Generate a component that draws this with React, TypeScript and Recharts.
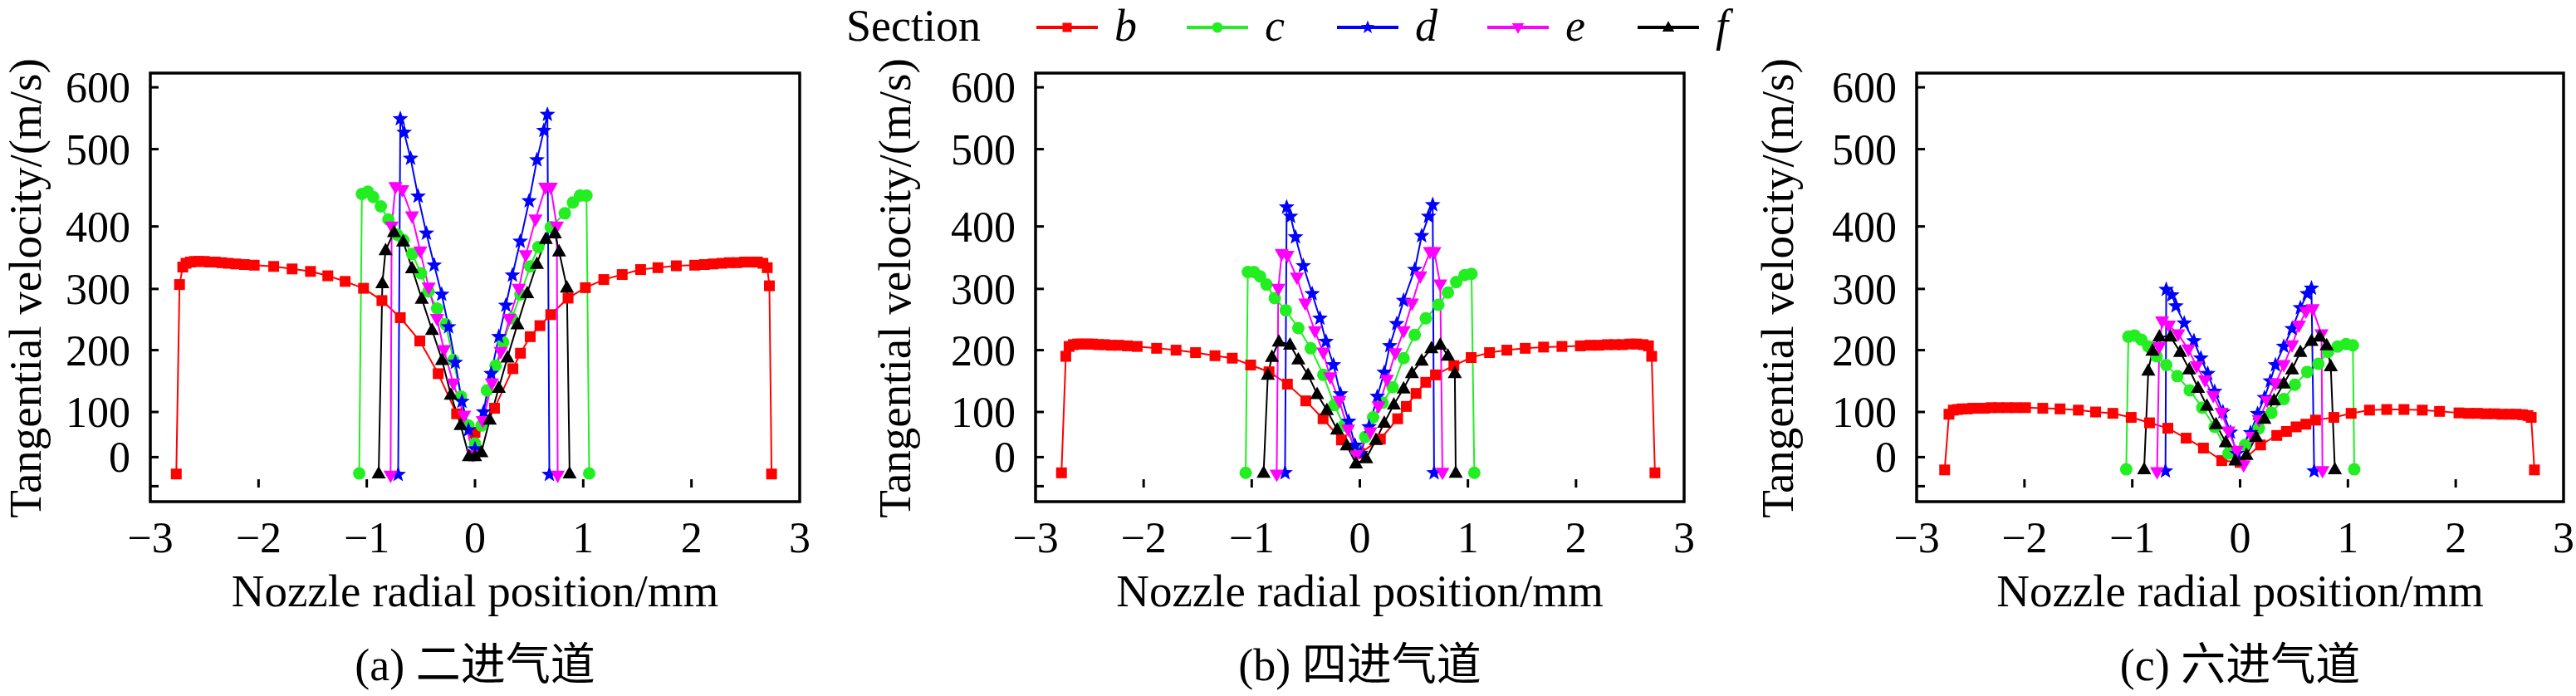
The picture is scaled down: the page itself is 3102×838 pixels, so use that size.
import { LineChart, Line, XAxis, YAxis, ReferenceArea } from "recharts"

type Pt = [number, number]

// [radial position (mm), tangential velocity (m/s)], one array per panel/section
const A_B: Pt[] = [
  [-2.76, -29], [-2.73, 307], [-2.7, 335], [-2.67, 341], [-2.63, 343], [-2.59, 344], [-2.55, 344],
  [-2.5, 344], [-2.45, 343], [-2.4, 343], [-2.34, 342], [-2.28, 341], [-2.21, 340], [-2.13, 339],
  [-2.04, 338], [-1.86, 336], [-1.69, 332], [-1.52, 328], [-1.36, 321], [-1.2, 312], [-1.03, 301],
  [-0.86, 281], [-0.69, 253], [-0.51, 215], [-0.34, 162], [-0.17, 96], [0, 55], [0.18, 106],
  [0.35, 170], [0.42, 195], [0.51, 222], [0.6, 240], [0.7, 258], [0.86, 285], [1.02, 302],
  [1.19, 315], [1.36, 323], [1.53, 331], [1.69, 334], [1.86, 337], [2.03, 338], [2.12, 339],
  [2.2, 340], [2.28, 341], [2.35, 342], [2.42, 342], [2.49, 343], [2.55, 343], [2.61, 343],
  [2.66, 341], [2.7, 334], [2.72, 305], [2.74, -29],
]
const A_C: Pt[] = [
  [-1.07, -28], [-1.045, 442], [-0.99, 445], [-0.94, 438], [-0.87, 426], [-0.8, 409], [-0.72, 387],
  [-0.66, 378], [-0.58, 356], [-0.5, 325], [-0.43, 296], [-0.35, 268], [-0.27, 242], [-0.2, 184],
  [-0.13, 125], [-0.06, 70], [0, 30], [0.06, 70], [0.11, 135], [0.19, 175], [0.26, 213],
  [0.34, 252], [0.42, 291], [0.51, 336], [0.585, 367], [0.7, 399], [0.83, 417], [0.905, 431],
  [0.97, 440], [1.03, 440], [1.055, -28],
]
const A_D: Pt[] = [
  [-0.71, -30], [-0.69, 549], [-0.655, 527], [-0.595, 488], [-0.526, 439], [-0.449, 389],
  [-0.377, 338], [-0.308, 291], [-0.244, 238], [-0.182, 180], [-0.121, 117], [-0.06, 60], [0, 18],
  [0.079, 100], [0.149, 162], [0.22, 222], [0.285, 273], [0.346, 322], [0.418, 376], [0.5, 433],
  [0.572, 486], [0.636, 530], [0.669, 556], [0.687, -30],
]
const A_E: Pt[] = [
  [-0.78, -32], [-0.77, 400], [-0.735, 451], [-0.672, 447], [-0.582, 413], [-0.505, 360],
  [-0.428, 302], [-0.351, 251], [-0.287, 200], [-0.2, 146], [-0.1, 92], [-0.02, 5], [0.072, 80],
  [0.156, 146], [0.238, 197], [0.315, 251], [0.405, 300], [0.469, 354], [0.559, 409], [0.649, 450],
  [0.7, 450], [0.756, 400], [0.764, -32],
]
const A_F: Pt[] = [
  [-0.89, -28], [-0.856, 309], [-0.826, 362], [-0.749, 391], [-0.664, 376], [-0.582, 333],
  [-0.492, 284], [-0.397, 233], [-0.305, 184], [-0.223, 128], [-0.133, 71], [-0.056, 2], [0, 2],
  [0.059, 11], [0.136, 83], [0.22, 139], [0.3, 188], [0.392, 242], [0.482, 293], [0.572, 340],
  [0.654, 380], [0.738, 389], [0.777, 360], [0.849, 302], [0.874, -28],
]

const B_B: Pt[] = [
  [-2.76, -27], [-2.72, 190], [-2.69, 206], [-2.65, 209], [-2.61, 210], [-2.57, 210], [-2.52, 210],
  [-2.47, 210], [-2.42, 209], [-2.36, 209], [-2.3, 208], [-2.23, 208], [-2.15, 207], [-2.06, 206],
  [-1.88, 203], [-1.7, 200], [-1.52, 196], [-1.34, 191], [-1.18, 187], [-1.01, 176], [-0.84, 165],
  [-0.67, 145], [-0.5, 118], [-0.34, 85], [-0.17, 38], [0, 8], [0.19, 40], [0.35, 85], [0.43, 109],
  [0.52, 130], [0.61, 148], [0.7, 160], [0.87, 175], [1.03, 188], [1.2, 196], [1.36, 200],
  [1.53, 203], [1.7, 205], [1.87, 206], [2.04, 207], [2.13, 208], [2.21, 208], [2.29, 209],
  [2.36, 209], [2.43, 209], [2.5, 210], [2.56, 210], [2.62, 209], [2.67, 207], [2.7, 190], [2.73, -27],
]
const B_C: Pt[] = [
  [-1.056, -27], [-1.036, 327], [-0.979, 327], [-0.923, 320], [-0.864, 307], [-0.787, 285],
  [-0.685, 265], [-0.569, 236], [-0.454, 203], [-0.338, 160], [-0.236, 111], [-0.146, 70],
  [-0.031, 14], [0.05, 45], [0.123, 88], [0.21, 115], [0.303, 140], [0.405, 187], [0.508, 225],
  [0.61, 252], [0.726, 274], [0.815, 294], [0.892, 311], [0.969, 322], [1.033, 324], [1.059, -27],
]
const B_D: Pt[] = [
  [-0.692, -27], [-0.677, 425], [-0.641, 413], [-0.595, 383], [-0.523, 337], [-0.441, 292],
  [-0.369, 252], [-0.313, 214], [-0.244, 176], [-0.179, 129], [-0.103, 79], [-0.044, 26],
  [0.008, 8], [0.085, 67], [0.162, 125], [0.226, 164], [0.277, 207], [0.341, 243], [0.405, 281],
  [0.508, 331], [0.572, 385], [0.636, 413], [0.674, 428], [0.687, -27],
]
const B_E: Pt[] = [
  [-0.769, -30], [-0.754, 300], [-0.723, 356], [-0.67, 353], [-0.582, 318], [-0.505, 276],
  [-0.415, 231], [-0.338, 196], [-0.274, 156], [-0.19, 118], [-0.108, 61], [-0.031, 5],
  [0.097, 55], [0.174, 109], [0.251, 152], [0.328, 195], [0.405, 231], [0.482, 276], [0.559, 320],
  [0.649, 359], [0.69, 359], [0.744, 307], [0.764, -27],
]
const B_F: Pt[] = [
  [-0.89, -27], [-0.851, 160], [-0.813, 189], [-0.749, 214], [-0.646, 209], [-0.569, 185],
  [-0.479, 160], [-0.395, 129], [-0.305, 103], [-0.21, 61], [-0.121, 26], [-0.036, -11],
  [0.059, -2], [0.149, 38], [0.226, 76], [0.315, 112], [0.405, 138], [0.482, 163], [0.572, 183],
  [0.662, 203], [0.744, 209], [0.815, 191], [0.879, 163], [0.887, -27],
]

const C_B: Pt[] = [
  [-2.74, -22], [-2.7, 95], [-2.66, 103], [-2.62, 104], [-2.58, 105], [-2.53, 105], [-2.48, 106],
  [-2.43, 106], [-2.37, 106], [-2.31, 107], [-2.24, 107], [-2.16, 107], [-2.08, 107], [-1.99, 107],
  [-1.83, 106], [-1.67, 105], [-1.5, 103], [-1.34, 100], [-1.18, 97], [-1.01, 88], [-0.84, 76],
  [-0.67, 64], [-0.5, 42], [-0.34, 20], [-0.17, -6], [0, -9], [0.19, 27], [0.34, 48], [0.43, 57],
  [0.52, 67], [0.61, 73], [0.7, 82], [0.87, 88], [1.03, 97], [1.2, 103], [1.36, 104], [1.52, 104],
  [1.69, 103], [1.85, 101], [2.03, 98], [2.12, 97], [2.2, 97], [2.28, 96], [2.36, 96], [2.43, 95],
  [2.5, 95], [2.56, 95], [2.62, 94], [2.67, 92], [2.7, 88], [2.73, -22],
]
const C_C: Pt[] = [
  [-1.056, -21], [-1.036, 222], [-0.979, 224], [-0.915, 217], [-0.851, 206], [-0.774, 190],
  [-0.685, 176], [-0.582, 158], [-0.467, 135], [-0.351, 107], [-0.236, 67], [-0.108, 8],
  [0.046, 27], [0.174, 64], [0.29, 98], [0.405, 121], [0.508, 144], [0.623, 165], [0.726, 178],
  [0.815, 197], [0.905, 206], [0.982, 210], [1.046, 208], [1.059, -21],
]
const C_D: Pt[] = [
  [-0.692, -24], [-0.685, 299], [-0.633, 290], [-0.595, 272], [-0.518, 244], [-0.428, 215],
  [-0.364, 187], [-0.3, 162], [-0.236, 133], [-0.159, 100], [-0.09, 55], [-0.03, 8], [0.097, 54],
  [0.162, 96], [0.226, 123], [0.28, 150], [0.328, 176], [0.405, 206], [0.482, 235], [0.559, 269],
  [0.623, 292], [0.662, 301], [0.687, -24],
]
const C_E: Pt[] = [
  [-0.77, -26], [-0.75, 205], [-0.723, 247], [-0.66, 240], [-0.574, 226], [-0.479, 201],
  [-0.403, 174], [-0.326, 151], [-0.249, 126], [-0.172, 98], [-0.108, 57], [-0.03, 14],
  [0.033, -14], [0.11, 45], [0.174, 82], [0.251, 118], [0.328, 146], [0.405, 176], [0.482, 208],
  [0.546, 240], [0.61, 263], [0.674, 267], [0.755, 226], [0.764, -24],
]
const C_F: Pt[] = [
  [-0.89, -21], [-0.851, 167], [-0.813, 199], [-0.749, 222], [-0.646, 222], [-0.556, 197],
  [-0.472, 169], [-0.39, 139], [-0.308, 110], [-0.223, 73], [-0.133, 33], [-0.044, -6],
  [0.059, 5], [0.149, 45], [0.226, 85], [0.315, 119], [0.405, 146], [0.482, 169], [0.559, 197],
  [0.662, 215], [0.738, 222], [0.803, 208], [0.841, 174], [0.879, -21],
]

const SECTIONS = ["b", "c", "d", "e", "f"]
const CAPTIONS = ["(a) 二进气道", "(b) 四进气道", "(c) 六进气道"]
const X_TICKS = [-3, -2, -1, 0, 1, 2, 3]
const Y_TICK_VALUES = [-50, 0, 100, 200, 300, 400, 500, 600]
const Y_TICK_LABELS = ["", "0", "100", "200", "300", "400", "500", "600"]
// the printed y labels are unevenly spaced in the figure; this is where each one sits on the plot scale
const Y_TICK_AT = [-20, 27, 100, 200, 299, 400, 525, 625]
const Y_DOMAIN = [-45, 648]

const FONT = '"Liberation Serif", "Noto Sans CJK SC", serif'

const STYLE: Record<string, { color: string; shape: string }> = {
  b: { color: "#ff0000", shape: "square" },
  c: { color: "#22ee22", shape: "circle" },
  d: { color: "#0000ff", shape: "star" },
  e: { color: "#ff00ff", shape: "down" },
  f: { color: "#000000", shape: "up" },
}

const PANELS = [
  { caption: CAPTIONS[0], series: { b: A_B, c: A_C, d: A_D, e: A_E, f: A_F } as Record<string, Pt[]>, left: 0, axisW: 181, plotW: 782, titleX: 30 },
  { caption: CAPTIONS[1], series: { b: B_B, c: B_C, d: B_D, e: B_E, f: B_F } as Record<string, Pt[]>, left: 1030, axisW: 217, plotW: 781, titleX: 47 },
  { caption: CAPTIONS[2], series: { b: C_B, c: C_C, d: C_D, e: C_E, f: C_F } as Record<string, Pt[]>, left: 2090, axisW: 218, plotW: 779, titleX: 50 },
]

// label value -> plot value, piecewise between the printed tick labels
function toPlot(v: number) {
  let i = 0
  while (i < Y_TICK_VALUES.length - 2 && v > Y_TICK_VALUES[i + 1]) i++
  const v0 = Y_TICK_VALUES[i], v1 = Y_TICK_VALUES[i + 1]
  const p0 = Y_TICK_AT[i], p1 = Y_TICK_AT[i + 1]
  return p0 + ((v - v0) * (p1 - p0)) / (v1 - v0)
}

function Marker({ shape, cx, cy, color, s = 1 }: { shape: string; cx: number; cy: number; color: string; s?: number }) {
  if (cx == null || cy == null) return null
  if (shape === "square") {
    const h = 6.5 * s
    return <rect x={cx - h} y={cy - h} width={2 * h} height={2 * h} fill={color} />
  }
  if (shape === "circle") return <circle cx={cx} cy={cy} r={7.5 * s} fill={color} />
  if (shape === "star") {
    const pts = []
    for (let k = 0; k < 10; k++) {
      const a = ((-90 + k * 36) * Math.PI) / 180
      const r = (k % 2 === 0 ? 10 : 4.2) * s
      pts.push(`${cx + r * Math.cos(a)},${cy + r * Math.sin(a)}`)
    }
    return <polygon points={pts.join(" ")} fill={color} />
  }
  const w = 8.5 * s
  const d = shape === "down" ? 1 : -1
  return (
    <polygon
      points={`${cx - w},${cy - d * 6 * s} ${cx + w},${cy - d * 6 * s} ${cx},${cy + d * 9 * s}`}
      fill={color}
    />
  )
}

function XTick(props: any) {
  const { x, y, payload } = props
  const v = payload.value
  return (
    <g>
      {Math.abs(v) < 3 && <line x1={x} x2={x} y1={y - 27} y2={y - 17} stroke="#000" strokeWidth={3} />}
      <text x={x} y={y + 61} textAnchor="middle" fontSize={52} fontFamily={FONT} fill="#000">
        {v < 0 ? `\u2212${-v}` : `${v}`}
      </text>
    </g>
  )
}

function YTick(props: any) {
  const { x, y, payload } = props
  const i = Y_TICK_AT.indexOf(payload.value)
  return (
    <g>
      <line x1={x} x2={x + 10} y1={y} y2={y} stroke="#000" strokeWidth={3} />
      <text x={x - 24} y={y + 18} textAnchor="end" fontSize={52} fontFamily={FONT} fill="#000">
        {Y_TICK_LABELS[i]}
      </text>
    </g>
  )
}

function Panel({ p }: { p: (typeof PANELS)[number] }) {
  const width = p.axisW + p.plotW + 12
  const cx = p.axisW + p.plotW / 2
  return (
    <div style={{ position: "absolute", left: p.left, top: 0 }}>
      <LineChart width={width} height={838} margin={{ top: 88, right: 12, bottom: 0, left: 0 }}>
        <XAxis
          type="number"
          dataKey="x"
          domain={[-3, 3]}
          ticks={X_TICKS}
          interval={0}
          allowDataOverflow
          height={234}
          axisLine={false}
          tickLine={false}
          tickSize={0}
          tickMargin={0}
          tick={XTick}
          label={() => (
            <g fontFamily={FONT} fill="#000">
              <text x={cx} y={730} textAnchor="middle" fontSize={55}>Nozzle radial position/mm</text>
              <text x={cx} y={819} textAnchor="middle" fontSize={54}>{p.caption}</text>
            </g>
          )}
        />
        <YAxis
          type="number"
          domain={Y_DOMAIN}
          ticks={Y_TICK_AT}
          interval={0}
          allowDataOverflow
          width={p.axisW}
          axisLine={false}
          tickLine={false}
          tickSize={0}
          tickMargin={0}
          tick={YTick}
          label={() => (
            <text
              x={p.titleX}
              y={347}
              transform={`rotate(-90 ${p.titleX} 347)`}
              textAnchor="middle"
              dominantBaseline="central"
              fontSize={55}
              fontFamily={FONT}
              fill="#000"
            >
              Tangential velocity/(m/s)
            </text>
          )}
        />
        <ReferenceArea x1={-3} x2={3} y1={Y_DOMAIN[0]} y2={Y_DOMAIN[1]} fill="none" stroke="#000" strokeWidth={3.5} />
        {SECTIONS.map((s) => (
          <Line
            key={s}
            data={p.series[s].map(([x, v]) => ({ x, y: toPlot(v) }))}
            dataKey="y"
            type="linear"
            stroke={STYLE[s].color}
            strokeWidth={2}
            dot={(d: any) => <Marker key={`${s}-${d.index}`} shape={STYLE[s].shape} cx={d.cx} cy={d.cy} color={STYLE[s].color} />}
            activeDot={false}
            isAnimationActive={false}
          />
        ))}
      </LineChart>
    </div>
  )
}

function SectionLegend() {
  return (
    <svg width={3102} height={72} style={{ position: "absolute", left: 0, top: 0 }} fontFamily={FONT}>
      <text x={1019} y={49} fontSize={54} fill="#000">Section</text>
      {SECTIONS.map((s, i) => {
        const x0 = 1248 + i * 181
        return (
          <g key={s}>
            <line x1={x0} x2={x0 + 74} y1={33} y2={33} stroke={STYLE[s].color} strokeWidth={4} />
            <Marker shape={STYLE[s].shape} cx={x0 + 37} cy={33} color={STYLE[s].color} s={0.85} />
            <text x={x0 + 94} y={49} fontSize={54} fontStyle="italic" fill="#000">{s}</text>
          </g>
        )
      })}
    </svg>
  )
}

export default function App() {
  return (
    <div style={{ position: "absolute", left: 0, top: 0, width: 3102, height: 838, background: "#fff" }}>
      {PANELS.map((p, i) => (
        <Panel key={i} p={p} />
      ))}
      <SectionLegend />
    </div>
  )
}
